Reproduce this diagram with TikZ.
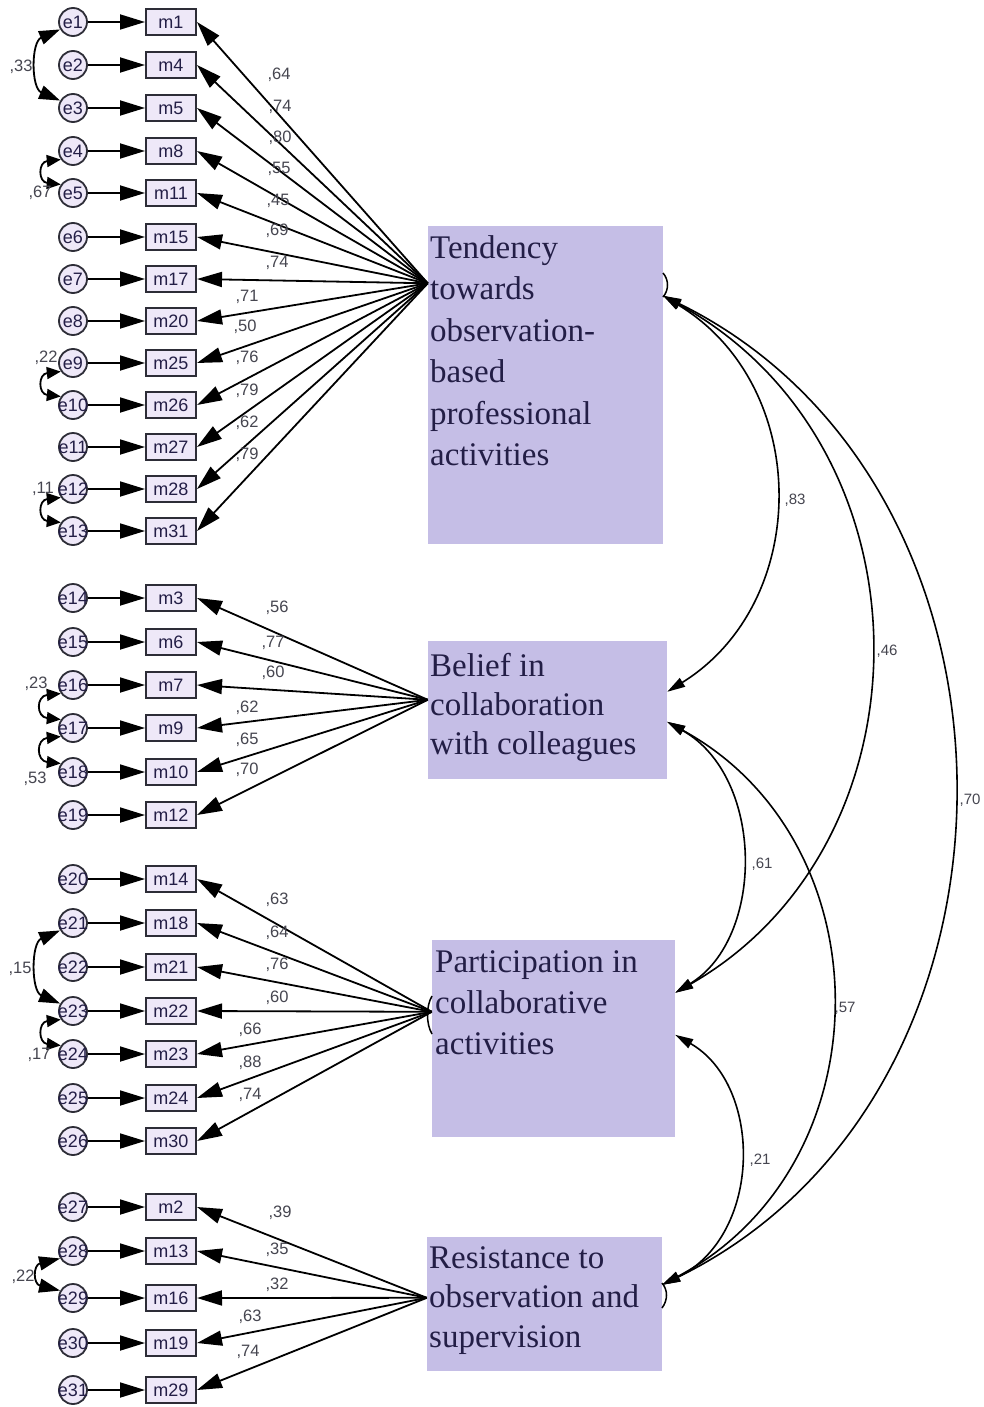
\documentclass[tikz,border=0pt]{standalone}
\usepackage{fontspec}
\setmainfont{Liberation Serif}
\setsansfont{Liberation Sans}
\usetikzlibrary{arrows.meta,calc}
\definecolor{latfill}{RGB}{197,190,230}
\definecolor{obsfill}{RGB}{238,232,248}
\definecolor{edgec}{RGB}{45,45,55}
\definecolor{txt}{RGB}{35,30,70}
\definecolor{coef}{RGB}{70,70,80}
\newcommand{\ez}[1]{\makebox[0pt]{#1}}
\tikzset{
  obs/.style={draw=edgec, line width=2pt, fill=obsfill, minimum width=50pt, minimum height=26pt, inner sep=0pt, font=\sffamily\fontsize{18}{18}\selectfont, text=txt},
  err/.style={circle, draw=edgec, line width=1.8pt, fill=obsfill, minimum size=28pt, inner sep=0pt, font=\sffamily\fontsize{18}{18}\selectfont, text=txt},
  lat/.style={fill=latfill, inner sep=0pt},
  lattext/.style={anchor=north west, inner sep=0pt, align=left, text=txt},
  coefl/.style={font=\sffamily\fontsize{16.5}{16.5}\selectfont, text=coef, inner sep=0pt},
  lcoefl/.style={font=\sffamily\fontsize{15}{15}\selectfont, text=coef, inner sep=0pt},
  path1/.style={line width=1.8pt, draw=black, -{Triangle[length=25pt,width=15pt]}},
  covar/.style={line width=1.8pt, {Triangle[length=21pt,width=14pt]}-{Triangle[length=21pt,width=14pt]}},
  covsm/.style={line width=1.8pt, {Triangle[length=14pt,width=12pt]}-{Triangle[length=14pt,width=12pt]}},
  lcov/.style={line width=1.6pt, {Triangle[length=18pt,width=10pt]}-{Triangle[length=18pt,width=10pt]}},
  tick/.style={line width=1.5pt},
}
\begin{document}
\begin{tikzpicture}[x=1pt,y=-1pt]
\useasboundingbox (0,0) rectangle (983,1407);
\fill[white] (0,0) rectangle (983,1407);

% latent variables
\node[lat, minimum width=235pt, minimum height=318pt] (T) at (545.5,384.5) {};
\node[lat, minimum width=239pt, minimum height=138pt] (B) at (547.5,710) {};
\node[lat, minimum width=243pt, minimum height=197pt] (P) at (553.5,1038.5) {};
\node[lat, minimum width=235pt, minimum height=134pt] (R) at (544.5,1304) {};

\node[lattext, font=\fontsize{33}{41.5}\selectfont] (Tt) at (430,235) {Tendency\\towards\\observation-\\based\\professional\\activities};
\node[lattext, font=\fontsize{33}{39}\selectfont] (Bt) at (430,653) {Belief in\\collaboration\\with colleagues};
\node[lattext, font=\fontsize{33}{41}\selectfont] (Pt) at (435,950) {Participation in\\collaborative\\activities};
\node[lattext, font=\fontsize{33}{39.5}\selectfont] (Rt) at (429,1246) {Resistance to\\observation and\\supervision};

% ports
\coordinate (Tl) at ($(T.north west)+(0,58)$);
\coordinate (Bl) at ($(B.north west)+(0,59)$);
\coordinate (Pl) at ($(P.north west)+(0,72)$);
\coordinate (Rl) at ($(R.north west)+(0,61)$);
\coordinate (Tc) at ($(T.north east)+(0,70.5)$);
\coordinate (Bc1) at ($(B.north east)+(0,51)$);
\coordinate (Bc2) at ($(B.north east)+(0,81)$);
\coordinate (Pc1) at ($(P.north east)+(0,53)$);
\coordinate (Pc2) at ($(P.north east)+(0,95)$);
\coordinate (Rc) at ($(R.north east)+(0,48)$);

% group 1
\foreach \e/\m/\y in {1/1/22,2/4/65,3/5/108,4/8/151,5/11/193,6/15/237,7/17/279,8/20/321,9/25/363,10/26/405,11/27/447,12/28/489,13/31/531}{
  \node[err] (e\e) at (73,\y) {\ez{e\e}};
  \node[obs] (m\m) at (171,\y) {m\m};
  \draw[path1] (e\e) -- (m\m);
  \draw[path1] (Tl) -- (m\m.east);
}
% group 2
\foreach \e/\m/\y in {14/3/598,15/6/642,16/7/685,17/9/728,18/10/772,19/12/815}{
  \node[err] (e\e) at (73,\y) {\ez{e\e}};
  \node[obs] (m\m) at (171,\y) {m\m};
  \draw[path1] (e\e) -- (m\m);
  \draw[path1] (Bl) -- (m\m.east);
}
% group 3
\foreach \e/\m/\y in {20/14/879,21/18/923,22/21/967,23/22/1011,24/23/1054,25/24/1098,26/30/1141}{
  \node[err] (e\e) at (73,\y) {\ez{e\e}};
  \node[obs] (m\m) at (171,\y) {m\m};
  \draw[path1] (e\e) -- (m\m);
  \draw[path1] (Pl) -- (m\m.east);
}
% group 4
\foreach \e/\m/\y in {27/2/1207,28/13/1251,29/16/1298,30/19/1343,31/29/1390}{
  \node[err] (e\e) at (73,\y) {\ez{e\e}};
  \node[obs] (m\m) at (171,\y) {m\m};
  \draw[path1] (e\e) -- (m\m);
  \draw[path1] (Rl) -- (m\m.east);
}

% loading labels
\foreach \v/\x/\y in {64/279/75,74/280/107,80/280/138,55/279/169,45/278/201,69/277/231,74/277/263,71/247/297,50/245/327,76/247/358,79/247/391,62/247/423,79/247/455,
  56/277/608,77/273/643,60/273/673,62/247/708,65/247/740,70/247/770,
  63/277/900,64/277/933,76/277/965,60/277/998,66/250/1030,88/250/1063,74/250/1095,
  39/280/1213,35/277/1250,32/277/1285,63/250/1317,74/248/1352}{
  \node[coefl] at (\x,\y) {,\v};
}

% error covariances
\draw[covar] (e1.210) .. controls (31,42) and (31,88) .. (e3.150);
\draw[covar] (e21.210) .. controls (31,943) and (31,991) .. (e23.150);
\draw[covar] (e28.210) .. controls (33,1265) and (33,1284) .. (e29.150);
\draw[covsm] (e4.215) .. controls (38,162) and (38,182) .. (e5.145);
\draw[covsm] (e9.215) .. controls (38,374) and (38,394) .. (e10.145);
\draw[covsm] (e12.215) .. controls (38,500) and (38,520) .. (e13.145);
\draw[covsm] (e16.215) .. controls (36,696) and (36,717) .. (e17.145);
\draw[covsm] (e17.215) .. controls (36,739) and (36,761) .. (e18.145);
\draw[covsm] (e23.215) .. controls (38,1022) and (38,1043) .. (e24.145);
\foreach \v/\x/\y in {33/21/67,67/40/193,22/46/358,11/43/489,23/36/684,53/35/779,15/20/969,17/39/1055,22/23/1277}{
  \node[coefl] at (\x,\y) {,\v};
}

% latent covariances
\draw[lcov] (Tc) .. controls (812,386) and (812,602) .. (Bc1);
\draw[lcov] (Tc) .. controls (937,446) and (937,843) .. (Pc1);
\draw[lcov] (Tc) .. controls (1050,486) and (1050,1095) .. (Rc);
\draw[lcov] (Bc2) .. controls (765,777) and (765,938) .. (Pc1);
\draw[lcov] (Bc2) .. controls (887,842) and (887,1165) .. (Rc);
\draw[lcov] (Pc2) .. controls (763,1085) and (763,1235) .. (Rc);
\foreach \v/\x/\y in {83/795/500,46/887/651,70/970/800,61/762/864,57/845/1008,21/760/1160}{
  \node[lcoefl] at (\x,\y) {,\v};
}

% small arcs on latent boxes
\draw[tick] (663,273) .. controls (669,280) and (669,290) .. (663,297);
\draw[tick] (432,996) .. controls (426,1006) and (426,1024) .. (432,1034);
\draw[tick] (662,1283) .. controls (668,1290) and (668,1300) .. (662,1308);
\end{tikzpicture}
\end{document}
